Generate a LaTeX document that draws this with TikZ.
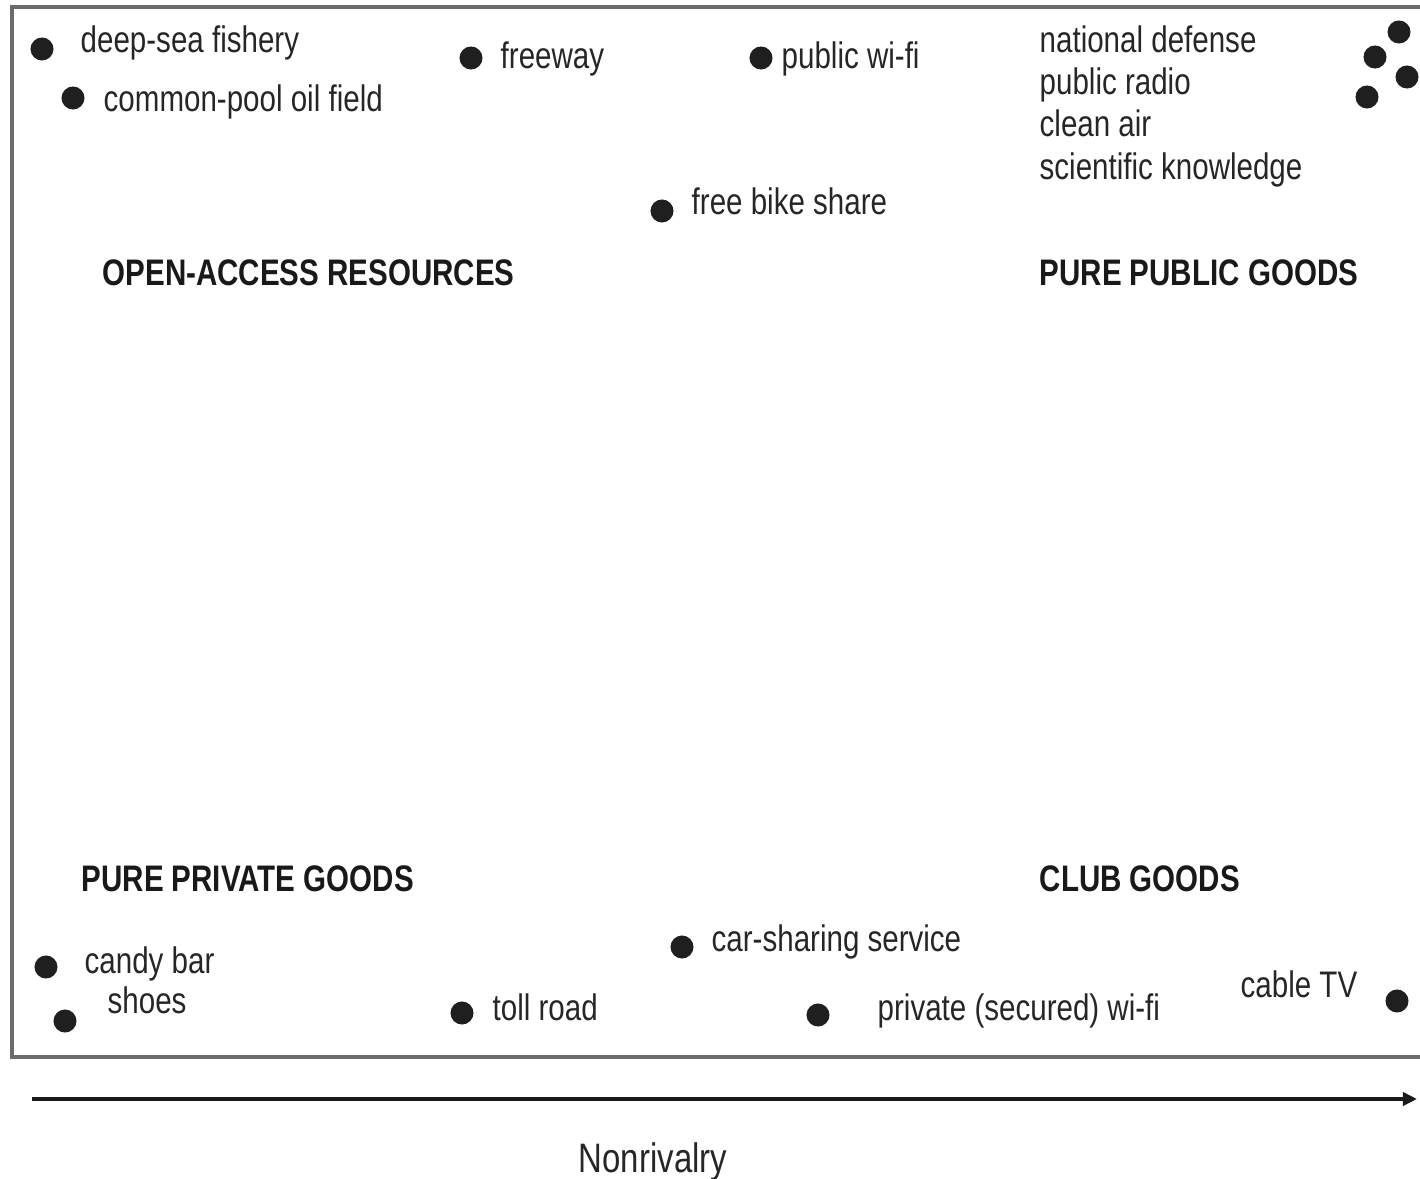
\documentclass[tikz,border=0pt]{standalone}
\usepackage{fontspec}
\setmainfont{Liberation Sans}[FakeStretch=0.8]
\usetikzlibrary{arrows.meta}
\tikzset{
    every node/.style={font=\fontsize{10.5}{12}\selectfont}, % one size for all labels. Change if necessary.
    }

\begin{document}
\begin{tikzpicture}[x=0.01cm, y=-0.01cm,
dotnode/.style={circle, fill=black!88, inner sep=0pt, minimum size=2.3mm},
itemlabel/.style={anchor=base west, inner sep=0pt, text=black!85},
quadlabel/.style={anchor=base west, inner sep=0pt, text=black!90, font=\fontsize{10.5}{12}\selectfont\bfseries},
]
\useasboundingbox (0,0) rectangle (1420,1179);
\draw[black!58, line width=0.9pt] (12,7) rectangle (1440,1057);

% open-access corner
\node[dotnode] (fishery) at (42,49) {};
\node[itemlabel] (fisherylbl) at (80,53) {deep-sea fishery};
\node[dotnode] (oilfield) at (73,98) {};
\node[itemlabel] (oilfieldlbl) at (103,112) {common-pool oil field};
\node[dotnode] (freeway) at (471,58) {};
\node[itemlabel] (freewaylbl) at (500,69) {freeway};
\node[dotnode] (pubwifi) at (761,58) {};
\node[itemlabel] (pubwifilbl) at (781,69) {public wi-fi};
\node[dotnode] (bikeshare) at (662,211) {};
\node[itemlabel] (bikesharelbl) at (691,215) {free bike share};

% public goods corner
\node[dotnode] (defense) at (1399,32) {};
\node[dotnode] (radio) at (1375,57) {};
\node[dotnode] (air) at (1407,77) {};
\node[dotnode] (knowledge) at (1367,97) {};
\node[itemlabel] (defenselbl) at (1039,53) {national defense};
\node[itemlabel] (radiolbl) at (1039,95) {public radio};
\node[itemlabel] (airlbl) at (1039,137) {clean air};
\node[itemlabel] (knowledgelbl) at (1039,180) {scientific knowledge};

\node[quadlabel] (openaccess) at (102,286) {OPEN-ACCESS RESOURCES};
\node[quadlabel] (purepublic) at (1039,286) {PURE PUBLIC GOODS};
\node[quadlabel] (pureprivate) at (81,891) {PURE PRIVATE GOODS};
\node[quadlabel] (clubgoods) at (1039,891) {CLUB GOODS};

% private goods and club goods
\node[dotnode] (candy) at (46,967) {};
\node[itemlabel] (candylbl) at (84,973) {candy bar};
\node[dotnode] (shoes) at (65,1021) {};
\node[itemlabel] (shoeslbl) at (107,1013) {shoes};
\node[dotnode] (tollroad) at (462,1013) {};
\node[itemlabel] (tollroadlbl) at (492,1021) {toll road};
\node[dotnode] (carshare) at (682,947) {};
\node[itemlabel] (carsharelbl) at (711,951) {car-sharing service};
\node[dotnode] (privwifi) at (818,1015) {};
\node[itemlabel] (privwifilbl) at (877,1021) {private (secured) wi-fi};
\node[dotnode] (cabletv) at (1397,1001) {};
\node[itemlabel] (cabletvlbl) at (1240,997) {cable TV};

% axis
\coordinate (axisstart) at (32,1099);
\coordinate (axisend) at (1417,1099);
\draw[line width=1pt, black!90, -{Triangle[length=1.4mm, width=1.3mm]}] (axisstart) -- (axisend);
\node[anchor=base, inner sep=0pt, text=black!85, font=\fontsize{11.7}{14}\selectfont] (axislbl) at (653,1172) {Nonrivalry};

\end{tikzpicture}
\end{document}
